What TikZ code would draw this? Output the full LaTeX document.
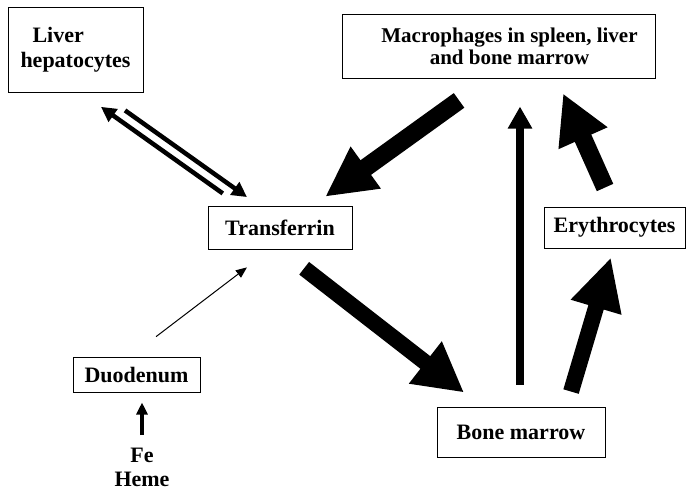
\documentclass[tikz,border=0pt]{standalone}
\usepackage{fontspec}
\setmainfont{Liberation Serif}
\usepackage{tikz}
\usetikzlibrary{arrows.meta, math}

\begin{document}
\begin{tikzpicture}[x=1pt, y=-1pt,
    organ/.style={draw, rectangle, line width=1pt, inner sep=0pt, font=\bfseries\fontsize{22}{25}\selectfont},
    flow/.style n args={3}{line width=#1, -{Triangle[length=#2, width=#3]}}]
    \useasboundingbox (0,0) rectangle (687,490);
    \tikzmath{\yTop = 46; \yMid = 227.5; \xTrf = 280; \xEry = 614.5; \xBm = 521; \yBm = 432; \xDuo = 136.5; \yDuo = 374.5;}
    \node[organ, align=left, minimum width=135pt, minimum height=85pt](liver) at (75.5,49.5) {\hspace{12pt}Liver\\hepatocytes};

    \node[organ, align=center, minimum width=313pt, minimum height=64pt, font=\bfseries\fontsize{21}{22}\selectfont](mac) at (498.5,\yTop) {\hspace*{22pt}Macrophages in spleen, liver\\\hspace*{22pt}and bone marrow};

    \node[organ, minimum width=144pt, minimum height=43pt](trf) at (\xTrf,\yMid) {Transferrin};

    \node[organ, minimum width=141pt, minimum height=41pt](ery) at (\xEry,\yMid) {Erythrocytes};

    \node[organ, minimum width=168pt, minimum height=50pt](bm) at (\xBm,\yBm) {Bone marrow};

    \node[organ, minimum width=127pt, minimum height=35pt](duo) at (\xDuo,\yDuo) {Duodenum};

    \node[align=center, anchor=north, inner sep=0pt, font=\bfseries\fontsize{22}{24}\selectfont](fe) at (142,448) {Fe\\Heme};

    \draw[flow={18pt}{50pt}{48pt}, shorten <=37.5pt, shorten >=15pt] ([xshift=-9pt]mac.south) -- ([xshift=33pt]trf.north);
    \draw[flow={16pt}{49pt}{50pt}, shorten <=30.6pt, shorten >=22.8pt] (trf.south) -- ([xshift=-39pt]bm.north);
    \draw[flow={8pt}{22pt}{23pt}, shorten <=22pt, shorten >=28pt] ([xshift=-1pt]bm.north) -- ([xshift=21.5pt]mac.south);
    \draw[flow={16pt}{52pt}{49pt}, shorten <=15.6pt, shorten >=9.3pt] ([xshift=45.6pt]bm.north) -- ([xshift=-1pt]ery.south);
    \draw[flow={18pt}{49pt}{50pt}, shorten <=20.8pt, shorten >=16.4pt] ([xshift=-1pt]ery.north) -- ([xshift=57.9pt]mac.south);
    \draw[flow={4.5pt}{15pt}{15pt}, shorten <=28.6pt, shorten >=17pt] ([xshift=-33.9pt, yshift=-4.5pt]trf.north) -- ([xshift=11.6pt, yshift=-4.5pt]liver.south);
    \draw[flow={4.5pt}{15pt}{15pt}, shorten <=38.7pt, shorten >=6.8pt] ([xshift=18pt, yshift=4.5pt]liver.south) -- ([xshift=-27.5pt, yshift=4.5pt]trf.north);
    \draw[flow={1pt}{11pt}{9pt}, shorten <=32.8pt, shorten >=29.5pt] ([xshift=-6.5pt]duo.north) -- ([xshift=-9.6pt]trf.south);
    \draw[flow={3.5pt}{12pt}{11pt}, shorten <=13pt, shorten >=10pt] (fe.north) -- ([xshift=5.5pt]duo.south);
\end{tikzpicture}
\end{document}
